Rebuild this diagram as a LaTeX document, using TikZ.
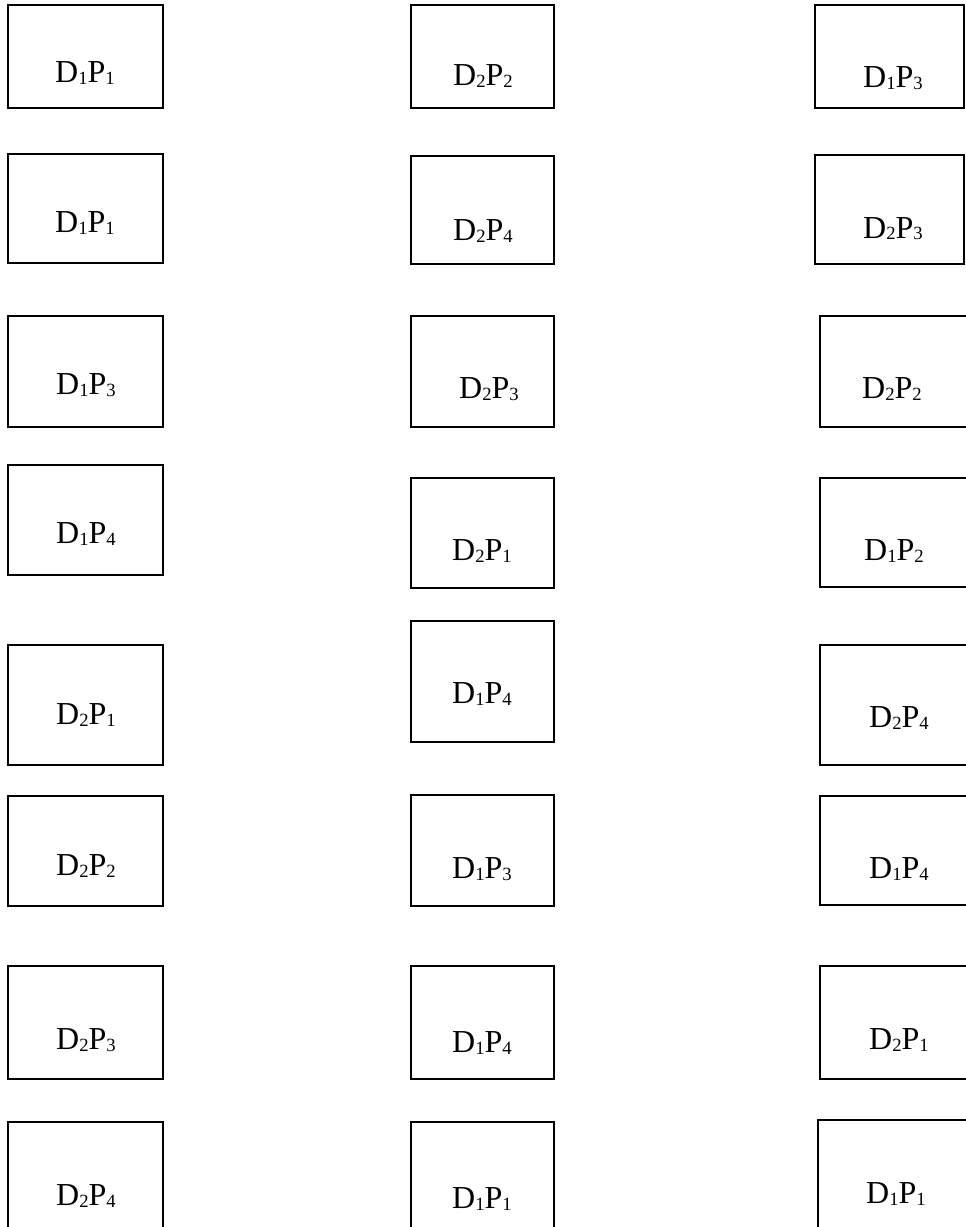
\documentclass[tikz,border=0pt]{standalone}
\usepackage{fontspec}
\setmainfont{Liberation Serif}
\usetikzlibrary{shapes.geometric}
\tikzstyle{cell} = [rectangle, draw, line width=1.2pt, inner sep=0pt]
\tikzstyle{colA} = [cell, minimum width=116.25pt]
\tikzstyle{colB} = [cell, minimum width=107.25pt]
\tikzstyle{colC} = [cell, minimum width=120pt]
\tikzstyle{pairtext} = [anchor=base, inner sep=0pt, font=\fontsize{24}{28}\selectfont]
\newcommand{\lowsub}[1]{\raisebox{-1.5pt}{\fontsize{14}{16}\selectfont #1}}
\newcommand{\pair}[2]{D\lowsub{#1}P\lowsub{#2}}

\begin{document}
\begin{tikzpicture}[x=0.75pt, y=-0.75pt]
            \clip (0,0) rectangle (966,1227);
            % left column
            \node [colA, minimum height=77.25pt] at (85.5,56.5) (a1) {};
            \node [colA, minimum height=81.75pt] at (85.5,208.5) (a2) {};
            \node [colA, minimum height=83.25pt] at (85.5,371.5) (a3) {};
            \node [colA, minimum height=82.5pt] at (85.5,520) (a4) {};
            \node [colA, minimum height=90pt] at (85.5,705) (a5) {};
            \node [colA, minimum height=82.5pt] at (85.5,851) (a6) {};
            \node [colA, minimum height=84.75pt] at (85.5,1022.5) (a7) {};
            \node [colA, minimum height=88.5pt] at (85.5,1181) (a8) {};
            \node [pairtext] at (85,83) (ta1) {\pair{1}{1}};
            \node [pairtext] at (85,232) (ta2) {\pair{1}{1}};
            \node [pairtext] at (86,394) (ta3) {\pair{1}{3}};
            \node [pairtext] at (86,543) (ta4) {\pair{1}{4}};
            \node [pairtext] at (86,724) (ta5) {\pair{2}{1}};
            \node [pairtext] at (86,875) (ta6) {\pair{2}{2}};
            \node [pairtext] at (86,1049) (ta7) {\pair{2}{3}};
            \node [pairtext] at (86,1205) (ta8) {\pair{2}{4}};

            % middle column
            \node [colB, minimum height=77.25pt] at (482.5,56.5) (b1) {};
            \node [colB, minimum height=81pt] at (482.5,210) (b2) {};
            \node [colB, minimum height=83.25pt] at (482.5,371.5) (b3) {};
            \node [colB, minimum height=82.5pt] at (482.5,533) (b4) {};
            \node [colB, minimum height=90.75pt] at (482.5,681.5) (b5) {};
            \node [colB, minimum height=83.25pt] at (482.5,850.5) (b6) {};
            \node [colB, minimum height=84.75pt] at (482.5,1022.5) (b7) {};
            \node [colB, minimum height=88.5pt] at (482.5,1181) (b8) {};
            \node [pairtext] at (483,86) (tb1) {\pair{2}{2}};
            \node [pairtext] at (483,240) (tb2) {\pair{2}{4}};
            \node [pairtext] at (489,398) (tb3) {\pair{2}{3}};
            \node [pairtext] at (482,560) (tb4) {\pair{2}{1}};
            \node [pairtext] at (482,703) (tb5) {\pair{1}{4}};
            \node [pairtext] at (482,878) (tb6) {\pair{1}{3}};
            \node [pairtext] at (482,1052) (tb7) {\pair{1}{4}};
            \node [pairtext] at (482,1208) (tb8) {\pair{1}{1}};

            % right column, cut by the page edge
            \node [cell, minimum width=111.75pt, minimum height=77.25pt] at (889.5,56.5) (c1) {};
            \node [cell, minimum width=111.75pt, minimum height=81.75pt] at (889.5,209.5) (c2) {};
            \node [colC, minimum height=83.25pt] at (900,371.5) (c3) {};
            \node [colC, minimum height=81.75pt] at (900,532.5) (c4) {};
            \node [colC, minimum height=90pt] at (900,705) (c5) {};
            \node [colC, minimum height=81.75pt] at (900,850.5) (c6) {};
            \node [colC, minimum height=84.75pt] at (900,1022.5) (c7) {};
            \node [colC, minimum height=90pt] at (898,1180) (c8) {};
            \node [pairtext] at (893,88) (tc1) {\pair{1}{3}};
            \node [pairtext] at (893,238) (tc2) {\pair{2}{3}};
            \node [pairtext] at (892,398) (tc3) {\pair{2}{2}};
            \node [pairtext] at (894,560) (tc4) {\pair{1}{2}};
            \node [pairtext] at (899,727) (tc5) {\pair{2}{4}};
            \node [pairtext] at (899,878) (tc6) {\pair{1}{4}};
            \node [pairtext] at (899,1049) (tc7) {\pair{2}{1}};
            \node [pairtext] at (896,1203) (tc8) {\pair{1}{1}};
\end{tikzpicture}
\end{document}
